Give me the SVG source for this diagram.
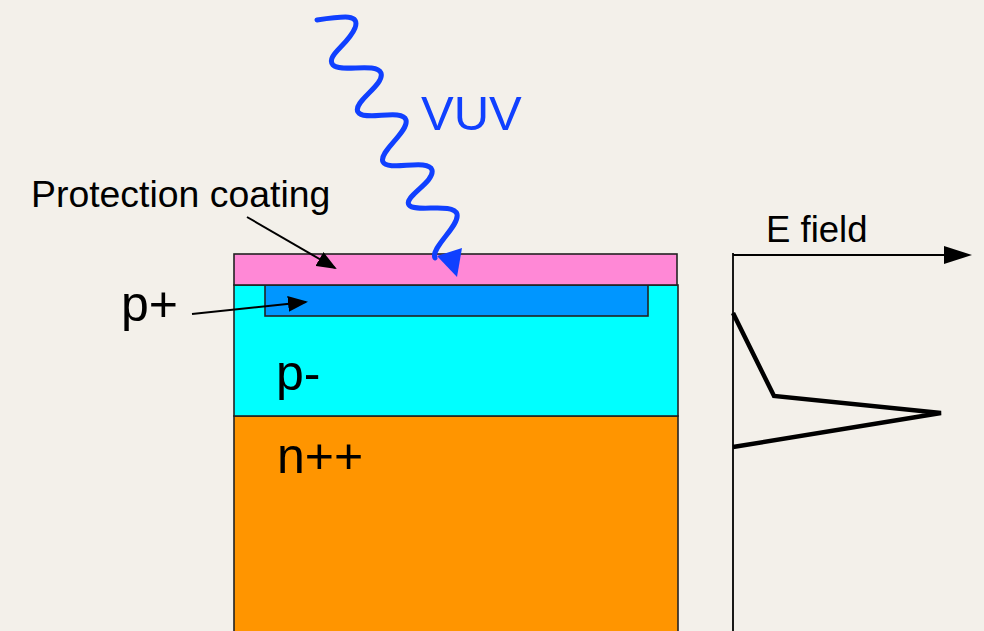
<svg xmlns="http://www.w3.org/2000/svg" width="984" height="631" viewBox="0 0 984 631">
  <style>
    .lbl { font-family: "Liberation Sans", Arial, Helvetica, sans-serif; fill: #000; }
    .layer { stroke: #222; stroke-width: 1.6; }
    .ptr { stroke: #000; stroke-width: 2; fill: none; }
  </style>
  <defs>
    <marker id="ah2" viewBox="0 0 10 10" refX="9" refY="5" markerWidth="20" markerHeight="16" markerUnits="userSpaceOnUse" orient="auto" preserveAspectRatio="none">
      <path d="M0,0 L10,5 L0,10 z" fill="#000"/>
    </marker>
  </defs>
  <rect width="984" height="631" fill="#f3f0ea"/>

  <g id="n-plus-plus">
    <rect class="layer" x="234" y="416" width="444" height="230" fill="#ff9500"/>
    <text class="lbl" x="277" y="473" font-size="50">n++</text>
  </g>
  <g id="p-minus">
    <rect class="layer" x="234" y="285" width="444" height="131" fill="#00ffff"/>
    <text class="lbl" x="276" y="390" font-size="50">p-</text>
  </g>
  <g id="p-plus">
    <rect class="layer" x="265" y="285" width="383" height="31" fill="#0096ff"/>
    <text class="lbl" x="121" y="321" font-size="50">p+</text>
  </g>
  <g id="coating">
    <rect class="layer" x="234" y="254" width="443" height="31" fill="#ff88d6"/>
    <text class="lbl" x="31" y="207" font-size="37.4">Protection coating</text>
  </g>

  <g id="vuv">
    <path d="M317,20 C345,16 360,14 355,28 C348,45 325,56 333,65 C341,73 376,62 381,73 C385,85 352,102 358,112 C364,122 402,108 406,120 C409,132 378,152 383,162 C388,172 428,158 432,170 C435,182 403,197 409,205 C415,213 453,202 457,214 C460,226 430,248 435,258" fill="none" stroke="#1040ff" stroke-width="5" stroke-linecap="round" stroke-linejoin="round"/>
    <path d="M437,256 L462,248 L457,277 z" fill="#1040ff"/>
    <text x="421" y="130" font-size="49" font-family="Liberation Sans, Arial, sans-serif" fill="#1040ff">VUV</text>
  </g>

  <g id="efield">
    <text class="lbl" x="766" y="242" font-size="36.5">E field</text>
    <polyline points="733,313 774,396 941,413 733,447" fill="none" stroke="#000" stroke-width="4.5" stroke-linejoin="miter"/>
  </g>

  <g id="connectors">
    <line class="ptr" x1="247" y1="217" x2="335" y2="268" marker-end="url(#ah2)"/>
    <line class="ptr" x1="192" y1="314" x2="306" y2="302" marker-end="url(#ah2)"/>
    <line x1="733" y1="253" x2="733" y2="631" stroke="#000" stroke-width="1.8"/>
    <line x1="733" y1="255" x2="950" y2="255" stroke="#000" stroke-width="1.8"/>
    <path d="M944,246 L972,255 L944,264 z" fill="#000"/>
  </g>
</svg>
